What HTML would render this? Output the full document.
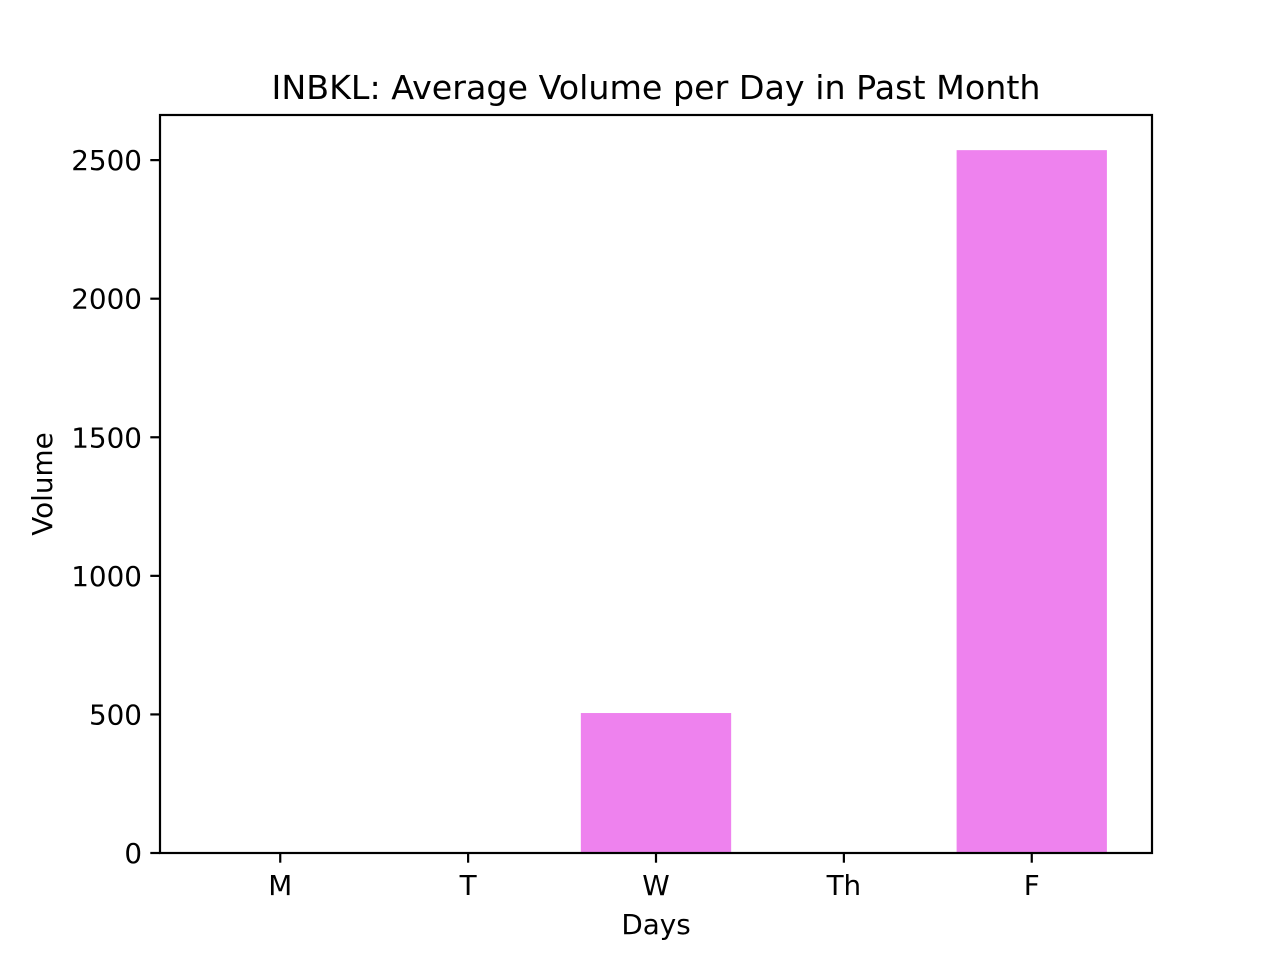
<!DOCTYPE html>
<html><head><meta charset="utf-8"><style>
html,body{margin:0;padding:0;background:#fff;}
svg text{font-family:"DejaVu Sans","Liberation Sans",sans-serif;fill:#000;}
</style></head><body>
<svg id="chart" width="1280" height="960" xmlns="http://www.w3.org/2000/svg"></svg>
<script>
const categories = ["M","T","W","Th","F"];
const volumes = [0, 0, 505, 0, 2536];
const yTicks = [0, 500, 1000, 1500, 2000, 2500];

const svg = document.getElementById('chart');
const NS = 'http://www.w3.org/2000/svg';
const L = 160, R = 1152, T = 115, B = 853;
const xMin = -0.64, xMax = categories.length - 1 + 0.64;
const yMax = Math.max(...volumes) * 1.05;
const xs = v => L + (v - xMin) / (xMax - xMin) * (R - L);
const ys = v => B - v / yMax * (B - T);
function mk(tag, attrs, parent) {
  const e = document.createElementNS(NS, tag);
  for (const k in attrs) e.setAttribute(k, attrs[k]);
  (parent || svg).appendChild(e);
  return e;
}
const title = mk('text', {x: 656, y: 99, 'text-anchor': 'middle', 'font-size': 33.3});


title.textContent = 'INBKL: Average Volume per Day in Past Month';

categories.forEach((c, i) => {
  const x0 = xs(i - 0.4), x1 = xs(i + 0.4);
  const r = mk('rect', {x: x0, y: ys(volumes[i]), width: x1 - x0, height: B - ys(volumes[i]), fill: '#EE82EE'});
  
  
  const tk = mk('line', {x1: xs(i), x2: xs(i), y1: B, y2: B + 9.7, stroke: '#000', 'stroke-width': 2.2});
  
  
  const t = mk('text', {x: xs(i), y: B + 42, 'text-anchor': 'middle', 'font-size': 27.8});
  
  
  t.textContent = c;
});
yTicks.forEach(v => {
  const tk = mk('line', {x1: L - 9.7, x2: L, y1: ys(v), y2: ys(v), stroke: '#000', 'stroke-width': 2.2});
  
  
  const t = mk('text', {x: L - 18, y: ys(v) + 10, 'text-anchor': 'end', 'font-size': 27.8});
  
  
  t.textContent = v;
});
const frame = mk('rect', {x: L, y: T, width: R - L, height: B - T, fill: 'none', stroke: '#000', 'stroke-width': 2.2});


const xl = mk('text', {x: 656, y: 934, 'text-anchor': 'middle', 'font-size': 27.8});


xl.textContent = 'Days';
const yl = mk('text', {x: 0, y: 0, 'text-anchor': 'middle', 'font-size': 27.8, transform: 'translate(52,484) rotate(-90)'});


yl.textContent = 'Volume';
</script>
</body></html>
